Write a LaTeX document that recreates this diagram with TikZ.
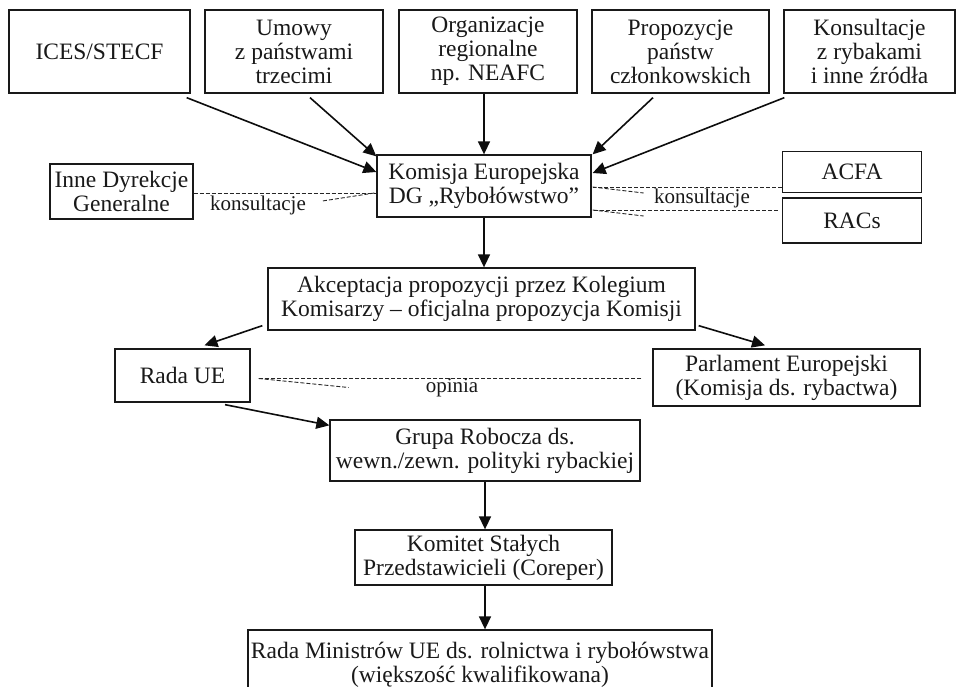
\documentclass[tikz,border=0pt]{standalone}
\usepackage{fontspec}
\setmainfont{Liberation Serif}
\usetikzlibrary{arrows.meta,calc}
\begin{document}
\begin{tikzpicture}[x=1pt,y=-1pt,
 box/.style={draw=black!90, line width=1.3pt, inner sep=0pt, align=center, font=\fontsize{23.5}{24}\selectfont, text=black!90},
 arr/.style={line width=1.6pt, draw=black!95, -{Triangle[length=13pt,width=12pt]}},
 dsh/.style={line width=0.9pt, dash pattern=on 4pt off 2pt, draw=black!85},
 lbl/.style={font=\fontsize{21}{22}\selectfont, inner sep=0pt, text=black!90}]
\useasboundingbox[fill=white] (0,0) rectangle (959,687);
% top row
\node[box, minimum width=181pt, minimum height=83pt] (ices) at (99.5,51.5) {ICES/STECF};
\node[box, minimum width=178pt, minimum height=83pt] (umowy) at (294,51.5) {Umowy\\z państwami\\trzecimi};
\node[box, minimum width=178pt, minimum height=83pt] (org) at (488,51.5) {Organizacje\\regionalne\\np. NEAFC};
\node[box, minimum width=177pt, minimum height=83pt] (prop) at (680.5,51.5) {Propozycje\\państw\\członkowskich};
\node[box, minimum width=171pt, minimum height=83pt] (kons) at (869.5,51.5) {Konsultacje\\z rybakami\\i inne źródła};
% second row
\node[box, minimum width=214pt, minimum height=62pt] (kom) at (484,186) {Komisja Europejska\\DG „Rybołówstwo”};
\node[box, minimum width=143pt, minimum height=55pt] (inne) at (121.5,191.5) {Inne Dyrekcje\\Generalne};
\node[box, minimum width=139pt, minimum height=41pt] (acfa) at (852,172) {ACFA};
\node[box, minimum width=139pt, minimum height=45pt] (racs) at (852,220.5) {RACs};
% lower
\node[box, minimum width=427pt, minimum height=62pt] (akc) at (481.5,299) {Akceptacja propozycji przez Kolegium\\Komisarzy – oficjalna propozycja Komisji};
\node[box, minimum width=135pt, minimum height=53pt] (radaue) at (182.5,375.5) {Rada UE};
\node[box, minimum width=267pt, minimum height=57pt] (parl) at (786.5,377.5) {Parlament Europejski\\(Komisja ds. rybactwa)};
\node[box, minimum width=310pt, minimum height=61pt] (grupa) at (485,450.5) {Grupa Robocza ds.\\wewn./zewn. polityki rybackiej};
\node[box, minimum width=257pt, minimum height=55pt] (komitet) at (483.5,557.5) {Komitet Stałych\\Przedstawicieli (Coreper)};
\node[box, minimum width=464pt, minimum height=70pt] (radamin) at (480,665) {Rada Ministrów UE ds. rolnictwa i rybołówstwa\\(większość kwalifikowana)};
% arrows into Komisja
\draw[arr] ([xshift=-4pt,yshift=-4pt]ices.south east) -- ([yshift=14pt]kom.west);
\draw[arr] ([xshift=16pt,yshift=-4pt]umowy.south) -- ([yshift=-2pt]kom.north west);
\draw[arr] (kom.north |- org.south) -- (kom.north);
\draw[arr] ([xshift=-27.5pt,yshift=-4pt]prop.south) -- ([xshift=1pt]kom.north east);
\draw[arr] ([xshift=1pt,yshift=-4pt]kons.south west) -- ([xshift=1pt,yshift=13pt]kom.east);
% vertical flow
\draw[arr] (kom.south) -- (kom.south |- akc.north);
\draw[arr] ([xshift=-5pt,yshift=5pt]akc.south west) -- ([xshift=22pt,yshift=3pt]radaue.north);
\draw[arr] ([xshift=3pt,yshift=5pt]akc.south east) -- ([xshift=-21.5pt,yshift=3pt]parl.north);
\draw[arr] ([xshift=42.5pt,yshift=-2pt]radaue.south) -- ([yshift=-6pt]grupa.north west);
\draw[arr] (grupa.south) -- (grupa.south |- komitet.north);
\draw[arr] ([xshift=1.5pt]komitet.south) -- ([xshift=1.5pt]komitet.south |- radamin.north);
% dashed consultations
\draw[dsh] ([yshift=-1.5pt]inne.east) -- ([yshift=-1.5pt]inne.east -| kom.west) coordinate (k1);
\draw[dsh] ([xshift=-2pt]k1) -- ++(-52,8);
\node[lbl] (lk1) at (258,205) {konsultacje};
\draw[dsh] ([yshift=-15pt]acfa.west) -- ([yshift=-15pt,xshift=1pt]acfa.west -| kom.east) coordinate (k2);
\draw[dsh] (k2) -- ++(51,6);
\draw[dsh] ([xshift=-4pt,yshift=10.5pt]racs.west) -- ([yshift=10.5pt,xshift=1pt]racs.west -| kom.east) coordinate (k3);
\draw[dsh] (k3) -- ++(51,6);
\node[lbl] (lk2) at (702,198) {konsultacje};
% opinia
\draw[dsh] ([xshift=-11pt,yshift=-1pt]parl.west) -- ([xshift=8pt,yshift=-1pt]parl.west -| radaue.east) coordinate (k4);
\draw[dsh] (k4) -- ++(90,9);
\node[lbl] (lop) at (452,388) {opinia};
\end{tikzpicture}
\end{document}
